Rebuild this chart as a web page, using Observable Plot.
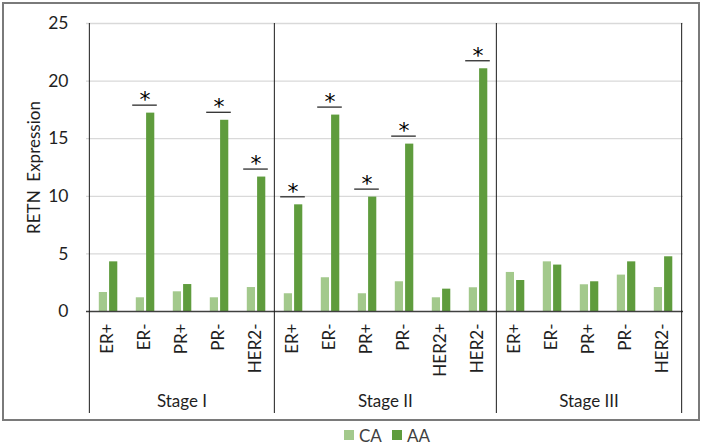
<!DOCTYPE html>
<html>
<head>
<meta charset="utf-8">
<script src="https://cdn.jsdelivr.net/npm/d3@7"></script>
<script src="https://cdn.jsdelivr.net/npm/@observablehq/plot@0.6"></script>
<style>
  html, body { margin: 0; padding: 0; background: #fff; }
  body { width: 702px; height: 445px; position: relative; overflow: hidden; font-family: Lato, "Open Sans", sans-serif; }
  #chart { position: absolute; left: 0; top: 0; }
  #border { position: absolute; left: 2px; top: 2px; width: 698px; height: 419px; box-sizing: border-box; border: 2px solid #7a7a7a; pointer-events: none; }
  #legend { position: absolute; left: 0; top: 425px; width: 702px; height: 20px; font-size: 17px; color: #404040; }
  .item { position: absolute; top: 0; display: flex; align-items: center; height: 20px; }
  .sw { width: 10px; height: 10px; margin-right: 5px; }
</style>
</head>
<body>
<div id="chart"></div>
<div id="border"></div>
<div id="legend"></div>
<script>
const stages = ["Stage I", "Stage II", "Stage III"];
const categories = ["ER+", "ER-", "PR+", "PR-", "HER2-", "ER+", "ER-", "PR+", "PR-", "HER2+", "HER2-", "ER+", "ER-", "PR+", "PR-", "HER2-"];
const stageIndex = [0, 0, 0, 0, 0, 1, 1, 1, 1, 1, 1, 2, 2, 2, 2, 2];
const caValues = [1.65, 1.19, 1.71, 1.19, 2.08, 1.54, 2.93, 1.54, 2.58, 1.19, 2.06, 3.39, 4.31, 2.32, 3.16, 2.08];
const aaValues = [4.31, 17.22, 2.34, 16.6, 11.67, 9.26, 17.05, 9.93, 14.53, 1.94, 21.07, 2.69, 4.03, 2.58, 4.31, 4.75];
const significant = [0, 1, 0, 1, 1, 1, 1, 1, 1, 0, 1, 0, 0, 0, 0, 0];
const yTicks = [0, 5, 10, 15, 20, 25];
const series = ["CA", "AA"];
const colors = ["#a3c98c", "#5f9c3d"];

const W = 702, H = 422, mL = 86, mR = 19, mT = 23, mB = 111;
const bw = (W - mL - mR) / categories.length;
const keys = categories.map((c, i) => stageIndex[i] + "|" + c);
const rows = categories.map((c, i) => ({key: keys[i], cat: c, stage: stageIndex[i], ca: caValues[i], aa: aaValues[i], sig: significant[i]}));
const sigRows = rows.filter(d => d.sig);

// stage boundaries and middle keys
const stageStarts = stages.map((s, k) => stageIndex.indexOf(k));
const stageEnds = stages.map((s, k) => stageIndex.lastIndexOf(k));
const stageLabels = stages.map((s, k) => {
  const n = stageEnds[k] - stageStarts[k] + 1;
  return {name: s, key: keys[stageStarts[k] + Math.floor(n / 2)], even: n % 2 === 0};
});

const font = "Lato, 'Open Sans', sans-serif";
const txt = "#1f1f1f";

const chart = Plot.plot({
  width: W, height: H,
  marginLeft: mL, marginRight: mR, marginTop: mT, marginBottom: mB,
  style: {fontFamily: font, fontSize: "17.5px", color: txt, background: "transparent"},
  x: {type: "band", domain: keys, padding: 0, axis: null},
  y: {domain: [0, 25], ticks: yTicks, tickSize: 0, tickPadding: 18, label: null},
  marks: [
    Plot.ruleY(yTicks.filter(t => t > 0), {stroke: "#d9d9d9", strokeWidth: 1.3}),
    Plot.barY(rows, {x: "key", y: "ca", fill: colors[0], insetLeft: 9.8, insetRight: bw - 18.3}),
    Plot.barY(rows, {x: "key", y: "aa", fill: colors[1], insetLeft: 20.1, insetRight: bw - 28.6}),
    Plot.ruleY([0], {stroke: "#404040", strokeWidth: 1.3}),
    Plot.ruleX(stageStarts.map(i => keys[i]), {dx: -bw / 2, stroke: "#1a1a1a", strokeWidth: 1, insetBottom: -102}),
    Plot.ruleX([keys[stageEnds[stageEnds.length - 1]]], {dx: bw / 2, stroke: "#1a1a1a", strokeWidth: 1, insetBottom: -102}),
    Plot.tickY(sigRows, {x: "key", y: "aa", dy: -8, insetLeft: 6.2, insetRight: 6.2, stroke: "#1a1a1a", strokeWidth: 1.2}),
    Plot.text(sigRows, {x: "key", y: "aa", text: () => "*", dy: -13, fontSize: 22, fill: "#000", fontFamily: "'DejaVu Sans', sans-serif"}),
    Plot.text(rows, {x: "key", text: "cat", frameAnchor: "bottom", dy: 12, rotate: -90, textAnchor: "end", lineAnchor: "middle", fontSize: 17, fill: txt}),
    Plot.text(stageLabels.filter(d => !d.even), {x: "key", text: "name", frameAnchor: "bottom", dy: 90, lineAnchor: "middle", fontSize: 17, fill: txt}),
    Plot.text(stageLabels.filter(d => d.even), {x: "key", text: "name", frameAnchor: "bottom", dy: 90, lineAnchor: "middle", dx: -bw / 2, fontSize: 17, fill: txt}),
    Plot.text(["RETN  Expression"], {frameAnchor: "left", dx: -52, rotate: -90, textAnchor: "middle", lineAnchor: "middle", fontSize: 17, fill: txt})
  ]
});
document.getElementById("chart").appendChild(chart);

const legend = document.getElementById("legend");
const lefts = [344, 392];
series.forEach((s, i) => {
  const it = document.createElement("div");
  it.className = "item";
  it.style.left = lefts[i] + "px";
  const sw = document.createElement("div");
  sw.className = "sw";
  sw.style.background = colors[i];
  const lab = document.createElement("span");
  lab.textContent = s;
  it.appendChild(sw);
  it.appendChild(lab);
  legend.appendChild(it);
});
</script>
</body>
</html>
